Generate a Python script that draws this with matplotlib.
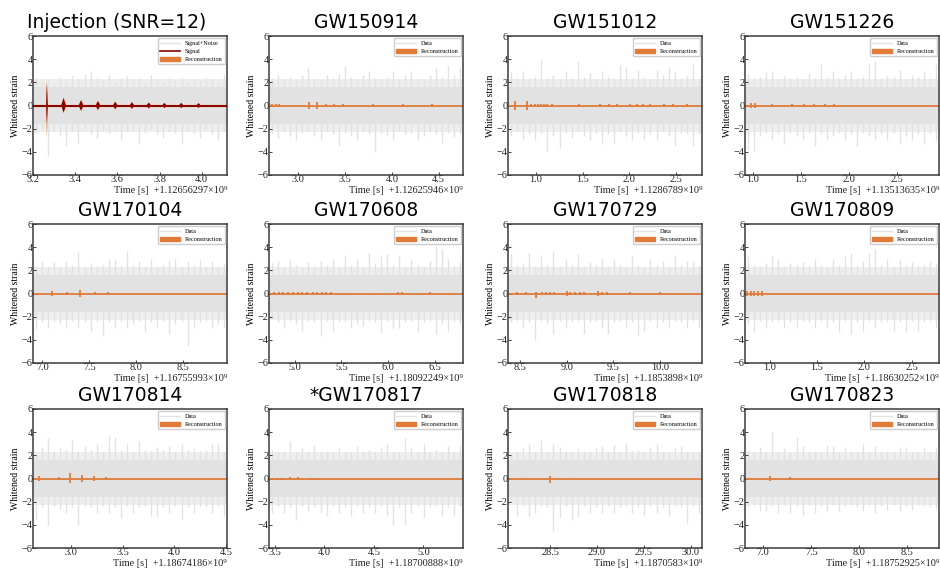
import numpy as np
import matplotlib
matplotlib.use("Agg")
import matplotlib.pyplot as plt
from matplotlib.lines import Line2D
from matplotlib.patches import Patch
from matplotlib.ticker import MultipleLocator, FormatStrFormatter

# ---------------- data ----------------
titles = ["Injection (SNR=12)", "GW150914", "GW151012", "GW151226",
          "GW170104", "GW170608", "GW170729", "GW170809",
          "GW170814", "*GW170817", "GW170818", "GW170823"]
offsets = ["1.12656297", "1.12625946", "1.1286789", "1.13513635",
           "1.16755993", "1.18092249", "1.1853898", "1.18630252",
           "1.18674186", "1.18700888", "1.1870583", "1.18752925"]
xlims = [(3.2, 4.12), (2.69, 4.76), (0.70, 2.78), (0.92, 2.94),
         (6.90, 8.97), (4.725, 6.80), (8.37, 10.45), (0.74, 2.79),
         (2.63, 4.51), (3.44, 5.40), (28.05, 30.12), (6.81, 8.83)]
xstep = [0.2] + [0.5] * 11

# noise: dense core level, typical outer level, and per-bin peak values (32 bins per panel)
noise_core = 1.6
noise_outer = 2.3
noise_hi = [
    [2.4, 2.0, 2.2, 1.9, 2.5, 2.1, 2.6, 2.3, 2.7, 3.0, 2.4, 2.2, 2.6, 2.0, 2.4, 2.6, 2.2, 2.4, 2.0, 2.6, 2.2, 2.0, 2.4, 2.2, 2.5, 2.0, 2.3, 2.1, 2.5, 2.3, 2.0, 2.7],
    [2.4, 2.6, 2.3, 2.5, 2.2, 2.6, 3.3, 2.4, 2.2, 2.6, 2.4, 2.7, 3.4, 2.5, 2.3, 2.6, 3.0, 2.4, 2.2, 2.5, 3.0, 2.3, 2.6, 3.0, 2.4, 2.2, 2.6, 3.2, 2.5, 3.4, 2.6, 3.3],
    [3.0, 2.4, 3.0, 2.3, 2.5, 3.9, 2.4, 2.6, 2.3, 3.0, 2.4, 3.8, 2.5, 2.8, 2.3, 3.0, 2.5, 2.4, 3.5, 3.3, 2.4, 3.1, 2.5, 2.3, 3.1, 2.6, 3.3, 3.0, 2.4, 2.6, 3.6, 2.3],
    [2.7, 2.4, 2.5, 2.9, 3.0, 2.3, 2.6, 2.4, 2.5, 2.3, 2.8, 2.4, 3.6, 2.5, 3.0, 2.4, 2.6, 3.0, 2.3, 2.5, 3.6, 3.8, 2.4, 2.6, 2.5, 3.1, 2.3, 2.6, 2.5, 3.0, 2.4, 3.6],
    [2.4, 2.8, 2.3, 2.7, 2.4, 2.8, 2.5, 3.6, 2.3, 2.6, 2.4, 2.5, 3.0, 3.0, 2.4, 3.7, 2.5, 2.8, 2.3, 3.0, 2.4, 2.5, 2.8, 3.0, 2.4, 2.8, 2.5, 2.9, 2.3, 2.8, 2.4, 2.6],
    [2.6, 2.8, 2.4, 2.9, 2.5, 2.3, 2.7, 2.4, 2.8, 2.5, 3.0, 2.4, 3.3, 2.5, 3.0, 2.4, 3.5, 2.6, 3.3, 3.4, 2.5, 3.3, 2.4, 3.0, 2.5, 2.3, 2.8, 4.1, 3.8, 3.0, 2.4, 2.7],
    [3.4, 2.5, 2.6, 3.5, 2.4, 3.3, 2.5, 3.7, 2.4, 3.0, 2.5, 3.4, 2.4, 2.7, 2.5, 3.1, 2.4, 3.0, 2.5, 2.4, 3.3, 2.5, 2.4, 3.0, 2.5, 2.8, 2.4, 3.3, 2.5, 2.8, 2.8, 2.4],
    [3.2, 2.5, 2.4, 2.6, 3.2, 3.0, 2.4, 2.6, 2.5, 2.7, 2.4, 3.0, 2.5, 2.4, 3.0, 2.5, 3.2, 3.5, 2.4, 2.8, 3.5, 3.8, 2.5, 3.0, 2.4, 3.0, 2.5, 2.7, 2.4, 2.5, 2.8, 2.6],
    [2.0, 2.7, 3.5, 2.4, 2.6, 2.5, 3.3, 2.4, 2.8, 2.5, 3.0, 2.4, 3.7, 3.6, 2.5, 3.0, 2.4, 3.2, 2.5, 2.4, 2.7, 2.5, 2.8, 2.4, 3.0, 2.5, 2.6, 2.4, 2.5, 3.0, 3.0, 2.4],
    [2.5, 2.3, 2.4, 3.2, 2.3, 2.6, 2.4, 2.9, 2.3, 2.4, 2.3, 2.6, 2.4, 2.3, 2.8, 2.4, 2.5, 2.3, 2.7, 3.0, 2.4, 2.3, 3.5, 2.7, 2.4, 3.0, 2.3, 2.5, 2.4, 2.8, 2.3, 2.9],
    [2.0, 2.4, 2.6, 3.0, 2.4, 3.3, 2.3, 3.0, 2.7, 2.4, 2.3, 2.6, 2.4, 2.3, 2.6, 2.8, 2.4, 2.9, 2.3, 3.1, 2.4, 2.5, 2.3, 2.7, 3.0, 2.4, 2.3, 2.6, 2.8, 2.4, 2.3, 2.3],
    [2.5, 2.3, 2.7, 2.3, 4.0, 2.4, 2.6, 2.3, 3.6, 2.8, 2.3, 2.4, 2.3, 2.9, 2.8, 2.3, 2.7, 2.4, 2.3, 3.0, 2.4, 2.8, 2.3, 2.4, 2.3, 2.7, 2.7, 2.3, 2.4, 2.6, 2.3, 2.7],
]
noise_lo = [
    [-2.4, -2.0, -4.4, -2.2, -2.6, -3.5, -2.3, -3.2, -2.0, -2.5, -2.8, -2.2, -2.4, -2.0, -3.0, -2.3, -2.1, -3.3, -2.4, -2.0, -2.5, -2.8, -2.2, -2.4, -3.3, -2.1, -2.4, -2.8, -2.0, -2.5, -3.0, -2.3],
    [-2.5, -2.8, -2.3, -2.6, -3.0, -2.4, -2.2, -2.6, -3.0, -2.3, -2.5, -3.5, -2.4, -2.6, -3.0, -2.3, -2.5, -4.0, -2.4, -2.6, -3.0, -2.2, -2.5, -2.4, -3.0, -2.6, -2.3, -2.5, -3.2, -2.4, -2.7, -2.5],
    [-2.6, -2.3, -3.0, -2.5, -3.0, -2.4, -3.9, -2.6, -3.7, -2.4, -2.8, -2.3, -2.6, -3.0, -2.4, -3.3, -2.5, -3.2, -2.3, -2.6, -3.0, -2.4, -3.0, -2.5, -3.0, -2.3, -2.6, -3.5, -2.4, -2.5, -3.5, -2.5],
    [-3.8, -3.9, -2.6, -2.4, -3.0, -2.5, -3.3, -2.4, -2.6, -3.0, -2.4, -3.5, -2.5, -3.0, -2.6, -2.4, -3.0, -2.5, -3.5, -2.4, -2.6, -3.0, -2.5, -3.0, -2.4, -3.3, -2.6, -3.0, -2.5, -3.3, -2.4, -3.0],
    [-3.1, -2.5, -3.0, -2.4, -2.6, -3.0, -2.4, -3.0, -2.5, -3.3, -2.4, -3.7, -2.5, -3.0, -2.4, -3.0, -2.6, -2.4, -3.3, -2.5, -3.0, -2.4, -3.5, -2.6, -2.4, -4.5, -3.0, -2.5, -2.4, -3.0, -2.6, -3.0],
    [-2.2, -2.5, -3.0, -2.4, -2.6, -3.2, -2.4, -2.5, -3.7, -2.4, -3.2, -2.5, -2.4, -3.0, -2.6, -2.8, -2.4, -2.5, -3.4, -2.4, -3.0, -3.0, -2.5, -2.4, -3.3, -2.5, -2.4, -3.5, -2.6, -3.2, -2.4, -2.6],
    [-2.5, -2.4, -3.0, -2.5, -4.0, -2.4, -2.6, -3.5, -2.4, -3.0, -2.5, -2.4, -3.5, -2.5, -2.4, -3.0, -3.5, -2.5, -2.4, -3.0, -2.5, -3.6, -3.2, -2.4, -3.0, -2.5, -3.0, -2.4, -2.5, -3.0, -2.4, -3.0],
    [-2.6, -3.3, -2.4, -3.0, -2.5, -2.4, -3.0, -2.5, -3.0, -2.4, -2.5, -3.0, -2.4, -3.0, -2.5, -3.3, -2.4, -3.5, -2.5, -3.2, -2.4, -3.0, -2.5, -2.4, -3.2, -2.5, -3.3, -2.4, -3.2, -2.5, -2.4, -3.0],
    [-3.6, -2.5, -4.0, -2.4, -2.6, -3.0, -2.5, -4.0, -2.4, -2.5, -3.0, -2.4, -3.0, -2.5, -3.4, -2.4, -3.0, -2.5, -2.4, -3.2, -3.3, -2.5, -3.0, -2.4, -3.5, -2.5, -3.0, -2.4, -2.5, -3.0, -2.4, -3.2],
    [-3.0, -2.4, -3.0, -2.5, -3.6, -2.4, -2.8, -2.5, -3.0, -3.2, -2.4, -3.0, -2.5, -3.2, -2.4, -3.0, -2.5, -3.0, -2.4, -3.2, -4.0, -2.5, -4.0, -3.0, -2.4, -3.3, -2.5, -2.4, -3.2, -2.5, -3.2, -2.4],
    [-2.0, -3.2, -2.4, -3.2, -3.0, -2.4, -2.5, -4.5, -3.3, -2.4, -3.6, -3.3, -2.4, -3.0, -2.5, -3.0, -2.4, -3.0, -2.5, -2.4, -3.0, -2.5, -3.2, -2.4, -3.0, -2.5, -3.2, -2.4, -2.5, -3.8, -2.4, -3.0],
    [-2.5, -2.3, -2.8, -2.8, -2.4, -3.0, -2.3, -3.0, -2.4, -3.2, -2.3, -3.0, -2.4, -2.8, -2.3, -2.8, -2.4, -2.3, -2.5, -2.8, -2.3, -3.0, -2.4, -2.7, -2.3, -2.8, -2.4, -2.7, -2.3, -2.4, -2.5, -2.6],
]

# reconstruction bursts (time, extent up, extent down)
rec_t = [
    [3.266, 3.345, 3.428, 3.508, 3.590, 3.669, 3.749, 3.823, 3.903, 3.985],
    [2.72, 2.76, 2.80, 3.12, 3.20, 3.30, 3.38, 3.48, 3.80, 4.12, 4.43],
    [0.78, 0.90, 0.95, 0.99, 1.02, 1.05, 1.09, 1.12, 1.17, 1.46, 1.69, 1.78, 1.87, 2.01, 2.08, 2.15, 2.22, 2.37, 2.47, 2.62],
    [0.98, 1.02, 1.20, 1.41, 1.53, 1.64, 1.75, 1.85],
    [7.10, 7.26, 7.40, 7.56, 7.70],
    [4.78, 4.83, 4.88, 4.93, 4.98, 5.03, 5.08, 5.13, 5.20, 5.24, 5.29, 5.34, 5.39, 5.50, 5.60, 5.70, 5.80, 5.90, 6.00, 6.10, 6.15, 6.25, 6.35, 6.45, 6.55, 6.65],
    [8.47, 8.56, 8.67, 8.73, 8.78, 8.82, 8.86, 9.00, 9.04, 9.09, 9.14, 9.18, 9.34, 9.38, 9.43, 9.68, 10.00],
    [0.76, 0.80, 0.84, 0.88, 0.92],
    [2.69, 2.88, 2.99, 3.10, 3.22, 3.34],
    [3.48, 3.52, 3.56, 3.59, 3.65, 3.73, 3.86, 3.89, 3.92],
    [28.24, 28.50, 28.57, 28.70],
    [7.07, 7.28],
]
rec_up = [
    [2.2, 0.7, 0.48, 0.4, 0.34, 0.3, 0.27, 0.24, 0.24, 0.22],
    [0.15, 0.15, 0.15, 0.3, 0.3, 0.15, 0.15, 0.15, 0.12, 0.12, 0.12],
    [0.4, 0.4, 0.15, 0.15, 0.15, 0.15, 0.15, 0.15, 0.15, 0.1, 0.1, 0.1, 0.1, 0.1, 0.1, 0.1, 0.1, 0.1, 0.1, 0.1],
    [0.2, 0.2, 0.12, 0.15, 0.15, 0.15, 0.15, 0.15],
    [0.2, 0.1, 0.3, 0.1, 0.15],
    [0.1, 0.1, 0.1, 0.1, 0.1, 0.1, 0.1, 0.1, 0.15, 0.15, 0.15, 0.15, 0.15, 0.08, 0.08, 0.08, 0.08, 0.08, 0.08, 0.1, 0.1, 0.08, 0.08, 0.1, 0.08, 0.08],
    [0.1, 0.1, 0.15, 0.1, 0.1, 0.1, 0.1, 0.2, 0.12, 0.12, 0.12, 0.12, 0.25, 0.15, 0.15, 0.15, 0.1],
    [0.2, 0.2, 0.2, 0.2, 0.25],
    [0.2, 0.15, 0.45, 0.3, 0.2, 0.15],
    [0.05, 0.05, 0.05, 0.05, 0.15, 0.1, 0.05, 0.05, 0.05],
    [0.08, 0.2, 0.08, 0.08],
    [0.25, 0.1],
]
rec_dn = [
    [-2.9, -0.65, -0.48, -0.4, -0.34, -0.3, -0.27, -0.24, -0.24, -0.22],
    [-0.15, -0.15, -0.15, -0.3, -0.3, -0.15, -0.15, -0.15, -0.12, -0.12, -0.12],
    [-0.4, -0.4, -0.15, -0.15, -0.15, -0.15, -0.15, -0.15, -0.15, -0.1, -0.1, -0.1, -0.1, -0.1, -0.1, -0.1, -0.1, -0.1, -0.1, -0.1],
    [-0.2, -0.2, -0.12, -0.15, -0.15, -0.15, -0.15, -0.15],
    [-0.2, -0.1, -0.3, -0.1, -0.15],
    [-0.1, -0.1, -0.1, -0.1, -0.1, -0.1, -0.1, -0.1, -0.15, -0.15, -0.15, -0.15, -0.15, -0.08, -0.08, -0.08, -0.08, -0.08, -0.08, -0.1, -0.1, -0.08, -0.08, -0.1, -0.08, -0.08],
    [-0.1, -0.1, -0.4, -0.1, -0.1, -0.1, -0.1, -0.2, -0.12, -0.12, -0.12, -0.12, -0.25, -0.15, -0.15, -0.15, -0.1],
    [-0.2, -0.2, -0.2, -0.2, -0.25],
    [-0.2, -0.15, -0.35, -0.3, -0.2, -0.15],
    [-0.15, -0.15, -0.15, -0.15, -0.15, -0.1, -0.12, -0.12, -0.12],
    [-0.08, -0.4, -0.08, -0.08],
    [-0.25, -0.1],
]

# injected signal (panel 0)
sig_t = [3.266, 3.345, 3.428, 3.508, 3.590, 3.669, 3.749, 3.823, 3.903, 3.985]
sig_up = [1.9, 0.65, 0.45, 0.38, 0.32, 0.28, 0.25, 0.22, 0.22, 0.2]
sig_dn = [-1.5, -0.6, -0.45, -0.38, -0.32, -0.28, -0.25, -0.22, -0.22, -0.2]

# ---------------- style ----------------
GRAY = "#e2e2e2"
HALO = "#eeeeee"
ORANGE = "#e07b39"
RED = "#8b0000"
SPINE = "#3a3a3a"
SERIF = ["Liberation Serif", "DejaVu Serif"]
SANS = ["DejaVu Sans"]

fig = plt.figure(figsize=(9.4, 5.7), dpi=100)
W, H = 940.0, 570.0
col_left = [33, 269, 508, 745]
row_top = [36, 224, 409]
ax_w, ax_h = 194, 139

for i in range(12):
    r, c = divmod(i, 4)
    ax = fig.add_axes([col_left[c] / W, 1 - (row_top[r] + ax_h) / H, ax_w / W, ax_h / H])
    x0, x1 = xlims[i]
    nb = len(noise_hi[i])
    edges = np.linspace(x0, x1, nb + 1)
    centers = 0.5 * (edges[:-1] + edges[1:])

    ax.fill_between([x0, x1], -noise_outer, noise_outer, color=HALO, lw=0, zorder=1)
    ax.fill_between([x0, x1], -noise_core, noise_core, color=GRAY, lw=0, zorder=1)
    ax.vlines(centers, 0, noise_hi[i], color=GRAY, lw=1.0, zorder=1)
    ax.vlines(centers, noise_lo[i], 0, color=GRAY, lw=1.0, zorder=1)

    if i == 0:
        for t, u, d in zip(rec_t[i], rec_up[i], rec_dn[i]):
            w = 0.004 if t == rec_t[i][0] else 0.012
            ax.fill([t - w, t, t + w, t], [0, u, 0, d], color=ORANGE, lw=0, zorder=2)
        ax.axhline(0, color=ORANGE, lw=1.6, zorder=2)
        for t, u, d in zip(sig_t, sig_up, sig_dn):
            w = 0.004 if t == sig_t[0] else 0.011
            ax.fill([t - w, t, t + w, t], [0, u, 0, d], color=RED, lw=0, zorder=3)
        ax.axhline(0, color=RED, lw=1.4, zorder=3)
        handles = [Line2D([], [], color=GRAY, lw=1.0), Line2D([], [], color=RED, lw=1.2),
                   Patch(facecolor=ORANGE, edgecolor=ORANGE)]
        labels = ["Signal+Noise", "Signal", "Reconstruction"]
    else:
        ax.axhline(0, color=ORANGE, lw=1.3, zorder=2)
        ax.vlines(rec_t[i], rec_dn[i], rec_up[i], color=ORANGE, lw=1.3, zorder=2)
        handles = [Line2D([], [], color=GRAY, lw=1.0), Patch(facecolor=ORANGE, edgecolor=ORANGE)]
        labels = ["Data", "Reconstruction"]

    ax.legend(handles, labels, loc="upper right",
              prop={"family": SERIF, "size": 4.4}, handlelength=3.2,
              borderaxespad=0.35, framealpha=1.0, edgecolor="#cccccc",
              borderpad=0.4, labelspacing=0.45)

    ax.set_xlim(x0, x1)
    ax.set_ylim(-6, 6)
    ax.xaxis.set_major_locator(MultipleLocator(xstep[i]))
    ax.xaxis.set_major_formatter(FormatStrFormatter("%.1f"))
    ax.yaxis.set_major_locator(MultipleLocator(2))
    ax.tick_params(direction="in", length=2, width=0.6, pad=0.3, labelsize=7.4, colors="#222222")
    for lab in ax.get_xticklabels() + ax.get_yticklabels():
        lab.set_family(SERIF)
    for s in ax.spines.values():
        s.set_color(SPINE)
        s.set_linewidth(1.1)
    ax.set_ylabel("Whitened strain", family=SERIF, fontsize=7, labelpad=1)
    ax.text(1.0, -0.108, "Time [s]  +" + offsets[i] + "\u00d710\u2079",
            transform=ax.transAxes, ha="right", va="center", family=SERIF, fontsize=7.4,
            color="#222222")
    kw = dict(x=0.43) if i == 0 else {}
    ax.set_title(titles[i], family=SANS, fontsize=13.5, pad=6, **kw)

fig.savefig("out.png", dpi=100)
